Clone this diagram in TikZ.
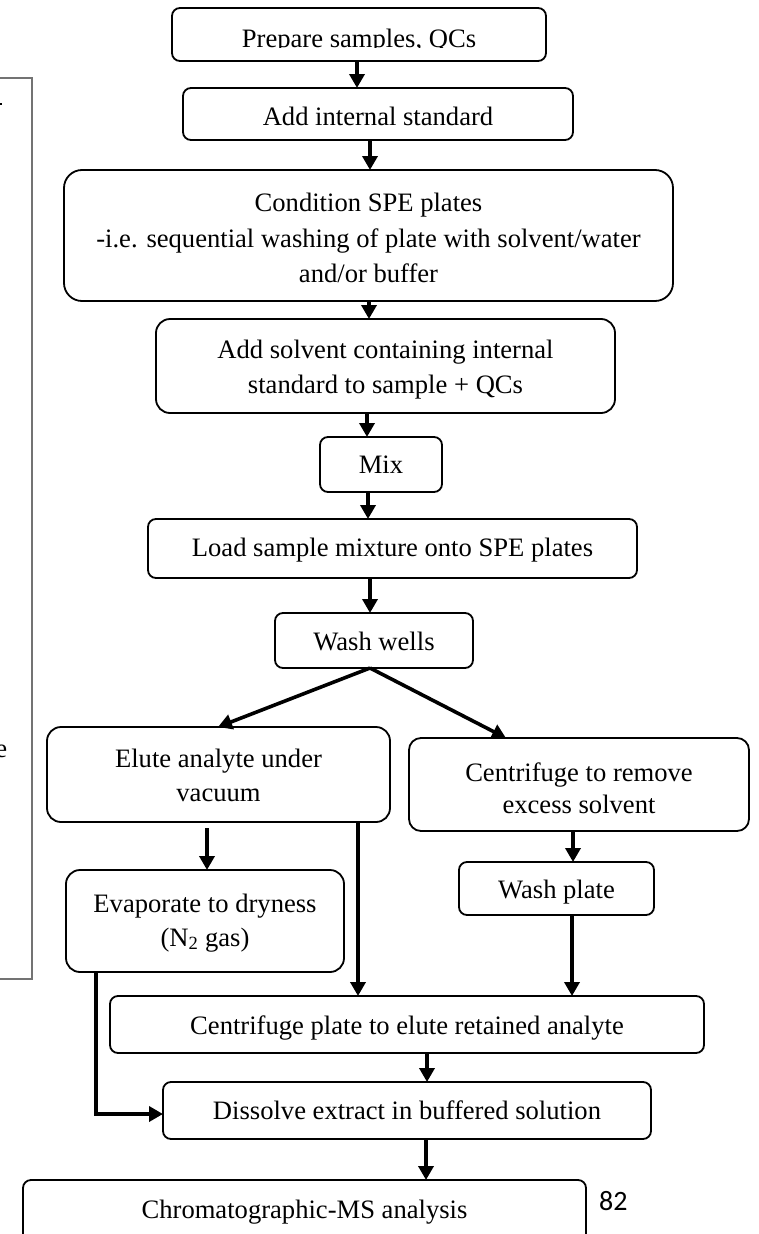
\documentclass[tikz,border=0pt]{standalone}
\usepackage{fontspec}
\setmainfont{Liberation Serif}
\newfontfamily\pagenofont{Carlito}
\usetikzlibrary{arrows.meta}

\begin{document}
\begin{tikzpicture}[x=1pt,y=-1pt,
  stepbox/.style={draw, line width=1.8pt, inner sep=0pt, outer sep=0pt, rounded corners=#1},
  stepbox/.default=8pt,
  lbl/.style={anchor=base, inner sep=0pt, font=\fontsize{26.6}{35}\selectfont},
  flow/.style={line width=3.6pt, -{Triangle[width=15pt,length=14pt]}},
]
\useasboundingbox (0,0) rectangle (758,1234);

% frame of the side panel on the left
\draw[black!55, line width=1.3pt] (-3,78) -- (32,78) -- (32,979) -- (-3,979);
\fill (0,103.2) rectangle (1.6,105);
\node[anchor=base east, inner sep=0pt, font=\fontsize{26.6}{35}\selectfont] (sidee) at (7.5,757) {e};

% process steps
\node[stepbox, minimum width=374, minimum height=53] (b1) at (359,34.5) {};
\node[stepbox, minimum width=390, minimum height=52] (b2) at (378,114) {};
\node[stepbox=18pt, minimum width=609, minimum height=131] (b3) at (368.5,235.5) {};
\node[stepbox=14pt, minimum width=459, minimum height=94] (b4) at (385.5,366) {};
\node[stepbox, minimum width=122, minimum height=55] (b5) at (381,464.5) {};
\node[stepbox, minimum width=489, minimum height=59] (b6) at (392.5,548.5) {};
\node[stepbox, minimum width=198, minimum height=55] (b7) at (374,640.5) {};
\node[stepbox=14pt, minimum width=343, minimum height=95] (b8) at (218.5,774.5) {};
\node[stepbox=12pt, minimum width=340, minimum height=93] (b9) at (579,784.5) {};
\node[stepbox=14pt, minimum width=278, minimum height=102] (b10) at (205,921) {};
\node[stepbox, minimum width=195, minimum height=53] (b11) at (556.5,888.5) {};
\node[stepbox, minimum width=594, minimum height=57] (b12) at (407,1024.5) {};
\node[stepbox, minimum width=488, minimum height=57] (b13) at (407,1110.5) {};
\node[stepbox, minimum width=563, minimum height=80] (b14) at (304.5,1220) {};

% labels
\begin{scope}
  \clip (172,8) rectangle (546,47.3);
  \node[lbl] (t1) at (359,47.5) {Prepare samples, QCs};
\end{scope}
\node[lbl] (t2) at (378,125) {Add internal standard};
\node[lbl] (t3a) at (368.5,211) {Condition SPE plates};
\node[lbl] (t3b) at (368.5,247) {-i.e. sequential washing of plate with solvent/water};
\node[lbl] (t3c) at (368.5,282) {and/or buffer};
\node[lbl] (t4a) at (385.5,358) {Add solvent containing internal};
\node[lbl] (t4b) at (385.5,393) {standard to sample + QCs};
\node[lbl] (t5) at (381,473) {Mix};
\node[lbl] (t6) at (392.5,556) {Load sample mixture onto SPE plates};
\node[lbl] (t7) at (374,650) {Wash wells};
\node[lbl] (t8a) at (218.5,767) {Elute analyte under};
\node[lbl] (t8b) at (218.5,801) {vacuum};
\node[lbl] (t9a) at (579,781) {Centrifuge to remove};
\node[lbl] (t9b) at (579,813) {excess solvent};
\node[lbl] (t10a) at (205,912) {Evaporate to dryness};
\node[lbl] (t10b) at (205,946) {(N\textsubscript{2} gas)};
\node[lbl] (t11) at (556.5,898) {Wash plate};
\node[lbl] (t12) at (407,1034) {Centrifuge plate to elute retained analyte};
\node[lbl] (t13) at (407,1119) {Dissolve extract in buffered solution};
\node[lbl] (t14) at (304.5,1218) {Chromatographic-MS analysis};
\node[anchor=base west, inner sep=0pt, font=\pagenofont\fontsize{28}{30}\selectfont] (pageno) at (599,1210) {82};

% connectors
\coordinate (evapstart) at (207,828);
\draw[flow] (357,0 |- b1.south) -- (357,0 |- b2.north);
\draw[flow] (370,0 |- b2.south) -- (370,0 |- b3.north);
\draw[flow] (369,0 |- b3.south) -- (369,0 |- b4.north);
\draw[flow] (367,0 |- b4.south) -- (367,0 |- b5.north);
\draw[flow] (368,0 |- b5.south) -- (368,0 |- b6.north);
\draw[flow] (370,0 |- b6.south) -- (370,0 |- b7.north);
\draw[flow] (370,0 |- b7.south) -- (218,0 |- b8.north);
\draw[flow] (370,0 |- b7.south) -- (506,0 |- b9.north);
\draw[flow] (evapstart) -- (207,0 |- b10.north);
\draw[flow] (358,0 |- b8.south) -- (358,0 |- b12.north);
\draw[flow] (573,0 |- b9.south) -- (573,0 |- b11.north);
\draw[flow] (572,0 |- b11.south) -- (572,0 |- b12.north);
\draw[flow] (427,0 |- b12.south) -- (427,0 |- b13.north);
\draw[flow] (96,0 |- b10.south) |- (b13.west |- 0,1114);
\draw[flow] (426,0 |- b13.south) -- (426,0 |- b14.north);
\end{tikzpicture}
\end{document}
